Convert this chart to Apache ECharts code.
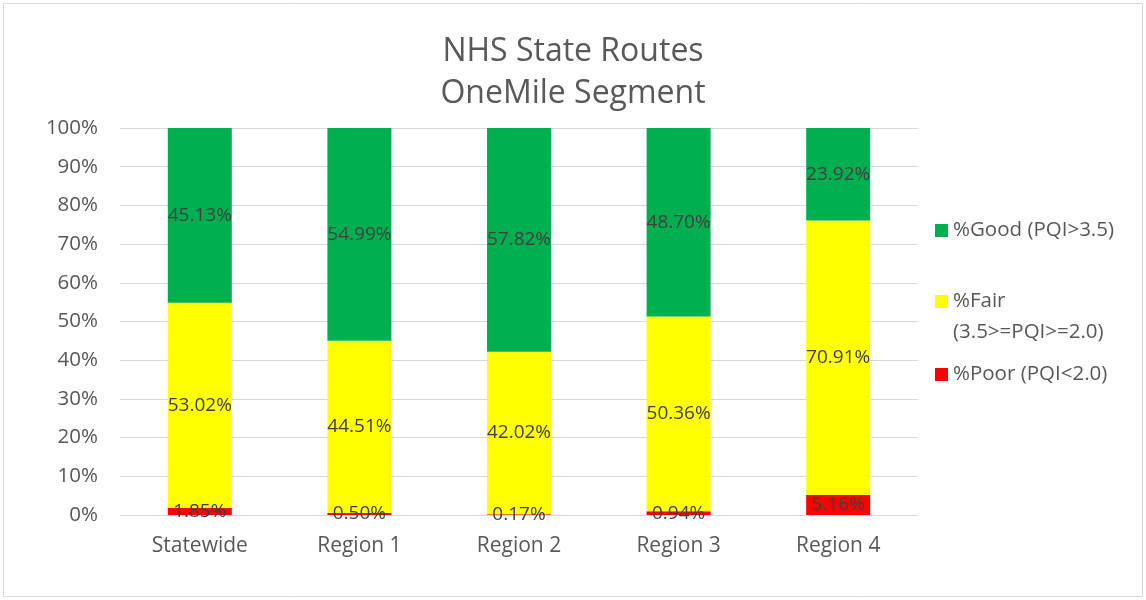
<!DOCTYPE html>
<html>
<head>
<meta charset="utf-8">
<script src="https://cdn.jsdelivr.net/npm/echarts@6/dist/echarts.min.js"></script>
<style>
  html, body { margin: 0; padding: 0; background: #fff; }
  #chart { width: 1146px; height: 600px; }
</style>
</head>
<body>
<div id="chart"></div>
<script>
const categories = ['Statewide', 'Region 1', 'Region 2', 'Region 3', 'Region 4'];
const poor = [1.85, 0.50, 0.17, 0.94, 5.16];
const fair = [53.02, 44.51, 42.02, 50.36, 70.91];
const good = [45.13, 54.99, 57.82, 48.70, 23.92];
const yTicks = [0, 10, 20, 30, 40, 50, 60, 70, 80, 90, 100];

const names = ['%Poor (PQI<2.0)', '%Fair\n(3.5>=PQI>=2.0)', '%Good (PQI>3.5)'];
const colors = ['#ff0000', '#ffff00', '#00b050'];
const font = '"Open Sans", sans-serif';

const chart = echarts.init(document.getElementById('chart'));

function makeSeries(name, values, color) {
    return {
        name: name,
        type: 'bar',
        stack: 'total',
        barWidth: 64,
        itemStyle: { color: color },
        label: {
            show: true,
            position: 'inside',
            color: '#404040',
            fontFamily: font,
            fontSize: 19,
            formatter: p => p.value.toFixed(2) + '%'
        },
        data: values
    };
}

// square icon; the two-line item gets a taller box so the square sits on its first line
function legendFor(name, top, twoLines) {
    return {
        data: [name],
        left: 935,
        top: top,
        padding: 0,
        itemGap: 5,
        itemWidth: 13,
        itemHeight: twoLines ? 44 : 13,
        icon: twoLines ? 'path://M0,0L13,0L13,13L0,13Z M0,44L0.001,44L0,43.999Z' : 'rect',
        textStyle: { color: '#595959', fontFamily: font, fontSize: 20.5, lineHeight: 31 },
        selectedMode: false
    };
}

chart.setOption({
    animation: false,
    title: {
        text: 'NHS State Routes\nOneMile Segment',
        left: 'center',
        top: 26,
        textStyle: { color: '#595959', fontFamily: font, fontSize: 32, fontWeight: 'normal', lineHeight: 42 }
    },
    legend: [
        legendFor(names[2], 215, false),
        legendFor(names[1], 286, true),
        legendFor(names[0], 359, false)
    ],
    graphic: [{
        type: 'rect',
        silent: true,
        shape: { x: 3.5, y: 3.5, width: 1139, height: 593 },
        style: { fill: 'none', stroke: '#d9d9d9', lineWidth: 1 }
    }],
    grid: { left: 120, right: 228, top: 128, bottom: 85 },
    xAxis: {
        type: 'category',
        data: categories,
        axisLine: { lineStyle: { color: '#d9d9d9' } },
        axisTick: { show: false },
        axisLabel: { color: '#595959', fontFamily: font, fontSize: 21, margin: 21 }
    },
    yAxis: {
        type: 'value',
        min: yTicks[0],
        max: yTicks[yTicks.length - 1],
        interval: 10,
        axisLine: { show: false },
        axisTick: { show: false },
        splitLine: { lineStyle: { color: '#d9d9d9' } },
        axisLabel: { color: '#595959', fontFamily: font, fontSize: 20.5, margin: 22, formatter: '{value}%' }
    },
    series: [
        makeSeries(names[0], poor, colors[0]),
        makeSeries(names[1], fair, colors[1]),
        makeSeries(names[2], good, colors[2])
    ]
});
</script>
</body>
</html>
